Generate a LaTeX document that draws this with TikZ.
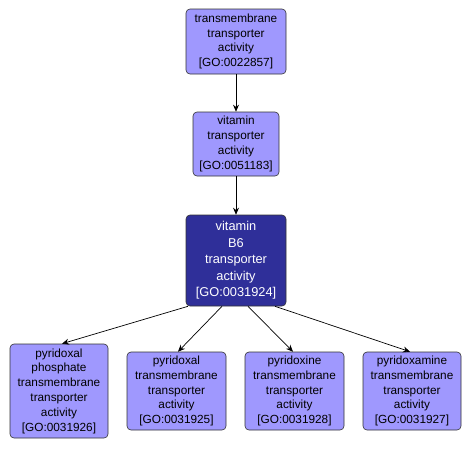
\documentclass[tikz,border=0pt]{standalone}
\usepackage{fontspec}
\setmainfont{Liberation Sans}
\usetikzlibrary{arrows.meta}
\definecolor{lightnode}{HTML}{9F98FE}
\definecolor{darknode}{HTML}{2F2F99}
\tikzset{
  gobox/.style={draw=black!80, line width=0.6pt, rounded corners=4pt, align=center,
    inner sep=1pt, font=\fontsize{11.8}{14.8}\selectfont},
  lightbox/.style={gobox, fill=lightnode, text=black},
  darkbox/.style={gobox, fill=darknode, text=white, font=\fontsize{12.8}{16.5}\selectfont},
  edge/.style={draw=black, line width=0.7pt, -{Stealth[length=7pt,width=6pt]}}
}
\begin{document}
\begin{tikzpicture}[x=1pt,y=-1pt]
\useasboundingbox (0,0) rectangle (473,448);
\node[lightbox, minimum width=100pt, minimum height=65pt] (n1) at (236,41.5)
  {transmembrane\\transporter\\activity\\{[GO:0022857]}};
\node[lightbox, minimum width=86pt, minimum height=64pt] (n2) at (236,144)
  {vitamin\\transporter\\activity\\{[GO:0051183]}};
\node[darkbox, minimum width=100pt, minimum height=91pt] (n3) at (236,260.5)
  {vitamin\\B6\\transporter\\activity\\{[GO:0031924]}};
\node[lightbox, minimum width=98pt, minimum height=94pt] (nA) at (59,391)
  {pyridoxal\\phosphate\\transmembrane\\transporter\\activity\\{[GO:0031926]}};
\node[lightbox, minimum width=99pt, minimum height=78pt] (nB) at (176.5,391)
  {pyridoxal\\transmembrane\\transporter\\activity\\{[GO:0031925]}};
\node[lightbox, minimum width=99pt, minimum height=78pt] (nC) at (294.5,391)
  {pyridoxine\\transmembrane\\transporter\\activity\\{[GO:0031928]}};
\node[lightbox, minimum width=98pt, minimum height=78pt] (nD) at (412,391)
  {pyridoxamine\\transmembrane\\transporter\\activity\\{[GO:0031927]}};
\draw[edge] (n1.south) -- (n2.north);
\draw[edge] (n2.south) -- (n3.north);
\draw[edge] ([xshift=-48pt]n3.south) -- ([xshift=3pt]nA.north);
\draw[edge] ([xshift=-14pt]n3.south) -- ([xshift=1.5pt]nB.north);
\draw[edge] ([xshift=12pt]n3.south) -- ([xshift=-1.5pt]nC.north);
\draw[edge] ([xshift=39pt]n3.south) -- ([xshift=-2pt]nD.north);
\end{tikzpicture}
\end{document}
